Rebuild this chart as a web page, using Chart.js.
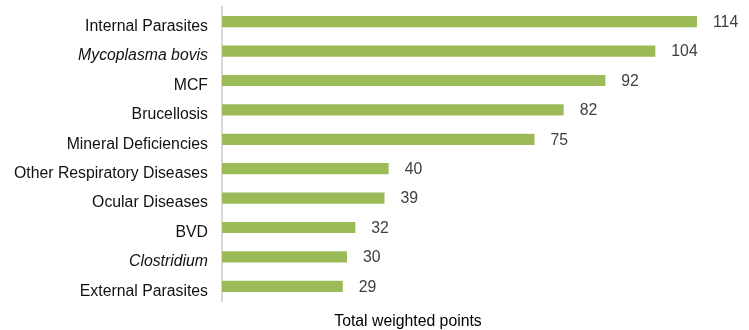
<!DOCTYPE html>
<html>
<head>
<meta charset="utf-8">
<script src="https://cdn.jsdelivr.net/npm/chart.js@4/dist/chart.umd.min.js"></script>
<style>
  html, body { margin: 0; padding: 0; background: #fff; }
  #wrap { width: 749px; height: 330px; position: relative; }
</style>
</head>
<body>
<div id="wrap"><canvas id="chart"></canvas></div>
<script>
'use strict';

const categories = ['Internal Parasites', 'Mycoplasma bovis', 'MCF', 'Brucellosis', 'Mineral Deficiencies',
  'Other Respiratory Diseases', 'Ocular Diseases', 'BVD', 'Clostridium', 'External Parasites'];
const points = [114, 104, 92, 82, 75, 40, 39, 32, 30, 29];
const italicLabels = ['Mycoplasma bovis', 'Clostridium'];
const axisTitle = 'Total weighted points';

const FONT = '"Liberation Sans", Arial, sans-serif';
const SIZE = 15.8;

// value labels to the right of each bar
const valueLabels = {
  id: 'valueLabels',
  afterDatasetsDraw(chart) {
    const { ctx } = chart;
    const meta = chart.getDatasetMeta(0);
    ctx.save();
    ctx.font = SIZE + 'px ' + FONT;
    ctx.fillStyle = '#404040';
    ctx.textBaseline = 'middle';
    meta.data.forEach((bar, i) => {
      ctx.fillText(String(points[i]), bar.x + 16, bar.y + 1);
    });
    ctx.restore();
  }
};

// axis title sits below the plot, left of centre like the original
const bottomTitle = {
  id: 'bottomTitle',
  afterDraw(chart) {
    const { ctx } = chart;
    ctx.save();
    ctx.font = SIZE + 'px ' + FONT;
    ctx.fillStyle = '#000';
    ctx.textAlign = 'center';
    ctx.textBaseline = 'middle';
    ctx.fillText(axisTitle, 408, 322);
    ctx.restore();
  }
};

new Chart(document.getElementById('chart'), {
  type: 'bar',
  data: {
    labels: categories,
    datasets: [{
      data: points,
      backgroundColor: '#9BBB59',
      barPercentage: 0.38,
      categoryPercentage: 1,
    }],
  },
  options: {
    indexAxis: 'y',
    responsive: true,
    maintainAspectRatio: false,
    animation: false,
    layout: { padding: { top: 7, right: 27, bottom: 29, left: 0 } },
    plugins: {
      legend: { display: false },
      tooltip: { enabled: false },
    },
    scales: {
      x: {
        display: false,
        min: 0,
        max: 120,
      },
      y: {
        grid: { display: false, drawTicks: false },
        border: { display: true, color: '#d9d9d9', width: 2 },
        afterFit: scale => {
          scale.width = 222;
          scale.paddingTop = 0;
          scale.paddingBottom = 0;
        },
        ticks: {
          padding: 14,
          labelOffset: 5,
          color: '#111',
          font: c => ({
            family: FONT,
            size: SIZE,
            style: italicLabels.includes(categories[c.index]) ? 'italic' : 'normal',
          }),
        },
      },
    },
  },
  plugins: [valueLabels, bottomTitle],
});
</script>
</body>
</html>
